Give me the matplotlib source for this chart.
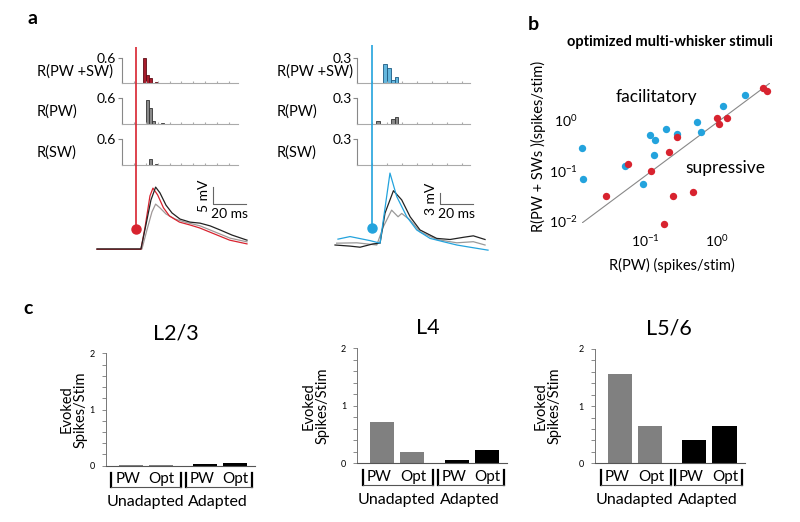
import matplotlib
matplotlib.use('Agg')
import matplotlib.pyplot as plt
import numpy as np

W, H = 800, 522
plt.rcParams['font.family'] = ['Lato', 'DejaVu Sans']

# ---- panel a: PSTH bins (bin index) and rates (spikes/stim) ----
row_labels = ['R(PW +SW)', 'R(PW)', 'R(SW)']
left_bins = [[7, 8, 9, 11], [8, 9, 10, 13], [9, 11]]
left_vals = [[0.60, 0.18, 0.12, 0.02], [0.55, 0.36, 0.06, 0.02], [0.13, 0.02]]
right_bins = [[7, 8, 9, 10], [5, 9, 10], []]
right_vals = [[0.22, 0.18, 0.035, 0.07], [0.035, 0.055, 0.085], []]

# ---- panel a: membrane potential traces (ms, mV) ----
lblack_t = [0, 13.8, 26.3, 29.3, 32.3, 35.1, 37.7, 41.3, 44.9, 49.7, 55.7, 61.7, 67.7, 73.7, 80.8, 89.8]
lblack_v = [0, 0, 0, 7.1, 14.4, 18.2, 16.5, 12.9, 10.6, 8.8, 7.9, 7.6, 6.8, 5.6, 4.1, 2.6]
lred_t = [0, 26.3, 28.7, 31.7, 33.5, 36.3, 39.8, 43.4, 49.4, 55.4, 61.4, 70.4, 79.4, 89.8]
lred_v = [-0.1, -0.1, 6.2, 15.6, 17.9, 15.9, 12.1, 9.7, 7.9, 7.1, 6.2, 4.4, 2.6, 1.5]
lgrey_t = [0, 26.9, 29.9, 32.9, 35.1, 37.7, 41.3, 46.7, 52.7, 61.7, 70.7, 79.6, 89.8]
lgrey_v = [0, 0, 5.6, 10.9, 13.2, 12.1, 10.3, 8.8, 7.9, 6.8, 5.0, 3.2, 2.1]

rblue_t = [1.8, 9.1, 21.2, 27.3, 33.3, 37.4, 43.5, 49.5, 57.6, 65.6, 73.8, 81.8, 92.7]
rblue_v = [1.6, 2.3, 1.2, 0.5, 19.6, 13.2, 7.7, 4.1, 1.8, 0.9, 0.0, -0.6, -1.4]
rblack_t = [0, 9.1, 15.2, 23.0, 27.3, 30.3, 35.4, 40.4, 45.5, 51.5, 61.6, 69.7, 77.8, 83.8, 90.9]
rblack_v = [0, -0.3, -0.6, 0.3, 0.5, 8.7, 14.8, 12.3, 7.7, 4.1, 1.8, 1.5, 2.1, 2.5, 1.5]
rgrey_t = [1.0, 13.2, 25.3, 29.3, 34.3, 38.2, 40.4, 45.5, 51.5, 61.6, 73.8, 83.8, 90.9]
rgrey_v = [0.5, 0.6, 0.0, 5.0, 9.5, 7.7, 8.6, 6.8, 3.6, 1.5, 0.6, 0.9, 0.0]

# ---- panel b: R(PW) vs R(PW + SWs) ----
blue_x = [0.0132, 0.0139, 0.053, 0.095, 0.117, 0.136, 0.133, 0.196, 0.275, 0.533, 0.60, 1.21, 2.42]
blue_y = [0.277, 0.069, 0.124, 0.054, 0.51, 0.40, 0.20, 0.65, 0.52, 0.90, 0.57, 1.83, 3.01]
red_x = [0.0287, 0.0587, 0.121, 0.215, 0.278, 0.248, 0.464, 0.186, 1.0, 1.07, 1.36, 4.41, 4.9]
red_y = [0.0315, 0.134, 0.098, 0.234, 0.449, 0.0315, 0.0378, 0.0091, 1.06, 0.83, 1.06, 4.2, 3.72]

# ---- panel c: evoked spikes/stim ----
layers = ['L2/3', 'L4', 'L5/6']
pw_unadapted = [0.02, 0.71, 1.56]
opt_unadapted = [0.02, 0.20, 0.66]
pw_adapted = [0.03, 0.05, 0.41]
opt_adapted = [0.05, 0.24, 0.66]

RED = '#D8232F'
BLUE = '#23A3DD'

fig = plt.figure(figsize=(W / 100, H / 100), dpi=100)


def add_ax(x0, y0, x1, y1):
    return fig.add_axes([x0 / W, 1 - y1 / H, (x1 - x0) / W, (y1 - y0) / H])


def hist_ax(rect, bins, vals, top, fc, ec, nbins):
    ax = add_ax(*rect)
    ax.patch.set_alpha(0)
    ax.bar(bins, vals, width=1, align='edge', color=fc, edgecolor=ec, lw=0.6)
    ax.set_xlim(0, nbins)
    ax.set_ylim(0, top * 1.02)
    for s in ['top', 'right']:
        ax.spines[s].set_visible(False)
    ax.spines['left'].set_color('#888')
    ax.spines['left'].set_linewidth(0.8)
    ax.spines['left'].set_bounds(0, top)
    ax.spines['bottom'].set_color('#aaa')
    ax.spines['bottom'].set_linewidth(0.8)
    ax.set_yticks([top])
    ax.set_yticklabels([str(top)])
    ax.set_xticks(np.arange(0, nbins, 4))
    ax.tick_params(axis='y', length=3, color='#888', labelsize=10, pad=1)
    ax.tick_params(axis='x', direction='in', length=1.5, color='#aaa', labelbottom=False)
    return ax


tops = [(57, 83), (97, 124), (138, 165)]
for i in range(3):
    y0, y1 = tops[i]
    fcl, ecl = ('#A71C2C', '#5E0E16') if i == 0 else ('#8a8a8a', '#333')
    fcr, ecr = ('#63B7DE', '#1C5A82') if i == 0 else ('#8a8a8a', '#333')
    hist_ax((122, y0, 238, y1), left_bins[i], left_vals[i], 0.6, fcl, ecl, 39)
    hist_ax((357, y0, 470, y1), right_bins[i], right_vals[i], 0.3, fcr, ecr, 30)
    fig.text(37 / W, 1 - (y0 + 15) / H, row_labels[i], va='center', fontsize=10.5)
    fig.text(277 / W, 1 - (y0 + 15) / H, row_labels[i], va='center', fontsize=10.5)

# left traces
axl = add_ax(90, 47, 250, 258)
axl.axis('off')
axl.set_xlim(-4.19, 91.6)
axl.set_ylim(-2.65, 59.4)
axl.plot(lgrey_t, lgrey_v, color='#a09898', lw=0.9)
axl.plot(lred_t, lred_v, color=RED, lw=0.9)
axl.plot(lblack_t, lblack_v, color='#222', lw=0.9)
axl.vlines(23.4, 5.9, 59.4, color=RED, lw=1.2)
axl.plot(23.4, 5.9, 'o', color=RED, ms=6.5)
axl.plot([69.5, 69.5, 89.5], [18.3, 13.1, 13.1], color='#666', lw=0.8)
axl.text(67.5, 15.7, '5 mV', rotation=90, ha='right', va='center', fontsize=10)
axl.text(79.5, 12.2, '20 ms', ha='center', va='top', fontsize=10)

# right traces
axr = add_ax(330, 45, 490, 258)
axr.axis('off')
axr.set_xlim(-3.03, 93.9)
axr.set_ylim(-3.54, 54.5)
axr.plot(rgrey_t, rgrey_v, color='#999', lw=0.9)
axr.plot(rblack_t, rblack_v, color='#222', lw=0.9)
axr.plot(rblue_t, rblue_v, color=BLUE, lw=0.9)
axr.vlines(22.7, 4.6, 54.5, color=BLUE, lw=1.2)
axr.plot(22.7, 4.6, 'o', color=BLUE, ms=6.5)
axr.plot([63.6, 63.6, 83.6], [14.1, 11.1, 11.1], color='#666', lw=0.8)
axr.text(61.8, 12.6, '3 mV', rotation=90, ha='right', va='center', fontsize=10)
axr.text(73.6, 10.2, '20 ms', ha='center', va='top', fontsize=10)

fig.text(32 / W, 1 - 18 / H, 'a', fontsize=14, fontweight='bold', ha='center', va='center')
fig.text(533 / W, 1 - 25 / H, 'b', fontsize=14, fontweight='bold', ha='center', va='center')
fig.text(28 / W, 1 - 308 / H, 'c', fontsize=14, fontweight='bold', ha='center', va='center')

# panel b
axb = add_ax(582, 83, 770, 223)
axb.set_xscale('log')
axb.set_yscale('log')
axb.set_xlim(10 ** -1.875, 10 ** 0.736)
axb.set_ylim(10 ** -2.03, 10 ** 0.72)
axb.plot([0, 1], [0, 1], transform=axb.transAxes, color='#888', lw=0.8)
axb.scatter(blue_x, blue_y, s=28, color=BLUE, lw=0, clip_on=False, zorder=3)
axb.scatter(red_x, red_y, s=28, color=RED, lw=0, clip_on=False, zorder=3)
for s in axb.spines.values():
    s.set_visible(False)
axb.set_xticks([0.1, 1])
axb.set_yticks([0.01, 0.1, 1])
axb.minorticks_off()
axb.tick_params(axis='x', length=0, labelsize=10, pad=7)
axb.tick_params(axis='y', length=0, labelsize=10, pad=3)
axb.set_xlabel('R(PW) (spikes/stim)', fontsize=10.5)
axb.set_ylabel('R(PW + SWs )(spikes/stim)', fontsize=10.5)
axb.xaxis.set_label_coords(0.477, -0.25)
axb.yaxis.set_label_coords(-0.19, 0.545)
axb.text(0.397, 0.9, 'facilitatory', transform=axb.transAxes, ha='center', va='center', fontsize=12.5)
axb.text(0.76, 0.39, 'supressive', transform=axb.transAxes, ha='center', va='center', fontsize=12.5)
fig.text(670 / W, 1 - 42 / H, 'optimized multi-whisker stimuli', ha='center', va='center',
         fontsize=10.5, fontweight='bold')

# panel c
c_rects = [(105.7, 353.3, 255, 465.7), (357.3, 348.3, 507.3, 463.3), (595, 349, 745, 463.3)]
title_x = [0.47, 0.473, 0.49]
ylabel_x = [-0.119, -0.182, -0.222]
pos = [0, 1, 2.47, 3.47]
for i, name in enumerate(layers):
    ax = add_ax(*c_rects[i])
    vals = [pw_unadapted[i], opt_unadapted[i], pw_adapted[i], opt_adapted[i]]
    ax.bar(pos, vals, width=0.8, color=['#808080', '#808080', '#000', '#000'])
    ax.set_xlim(-0.83, 4.15)
    ax.set_ylim(0, 2)
    for s in ['top', 'right']:
        ax.spines[s].set_visible(False)
    ax.spines['left'].set_color('#777')
    ax.spines['bottom'].set_color('#555')
    ax.spines['left'].set_linewidth(0.7)
    ax.spines['bottom'].set_linewidth(0.8)
    ax.set_xticks([])
    ax.set_yticks([0, 1, 2])
    ax.set_yticks(np.arange(0, 2.01, 0.2), minor=True)
    ax.tick_params(axis='y', which='both', length=3, color='#777', width=0.6, labelsize=6.5, pad=5)
    ax.text(title_x[i], 1.18, name, transform=ax.transAxes, ha='center', va='center', fontsize=15.5)
    ax.set_ylabel('Evoked\nSpikes/Stim', fontsize=10.5, linespacing=1.0)
    ax.yaxis.set_label_coords(ylabel_x[i], 0.5)
    for a, b in [(-0.64, 1.68), (1.84, 4.04)]:
        ax.plot([a, a], [-0.125, -0.385], color='k', lw=1.6, clip_on=False)
        ax.plot([b, b], [-0.125, -0.385], color='k', lw=1.6, clip_on=False)
        ax.plot([a, b], [-0.385, -0.385], color='#555', lw=0.8, clip_on=False)
    for p, t in zip(pos, ['PW', 'Opt', 'PW', 'Opt']):
        off = -0.1 if t == 'PW' else 0.03
        ax.text(p + off, -0.245, t, ha='center', va='center', fontsize=11)
    ax.text(0.48, -0.64, 'Unadapted', ha='center', va='center', fontsize=11.5)
    ax.text(2.9, -0.64, 'Adapted', ha='center', va='center', fontsize=11.5)

fig.savefig('out.png', dpi=100)
